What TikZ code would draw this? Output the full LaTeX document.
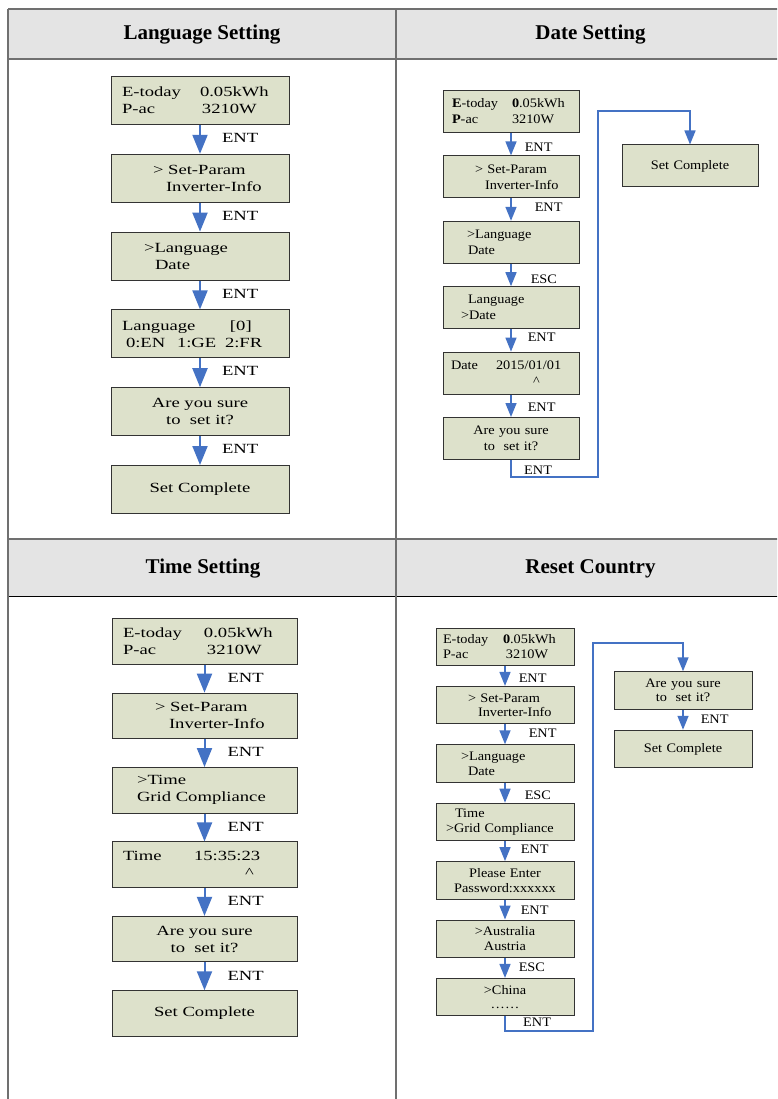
\documentclass[tikz,border=0pt]{standalone}
\usepackage{fontspec}
\setmainfont{Liberation Serif}
\newfontfamily\lcdwide[FakeStretch=1.33]{Liberation Serif}
\newfontfamily\lcdnarrow[FakeStretch=1.1]{Liberation Serif}
\usetikzlibrary{arrows.meta,positioning}
\definecolor{lcdfill}{HTML}{DDE1CB}
\definecolor{lcdline}{HTML}{333333}
\definecolor{flowblue}{HTML}{4472C4}
\definecolor{gridgray}{HTML}{707070}
\definecolor{headfill}{HTML}{E4E4E4}

\begin{document}
\begin{tikzpicture}[x=1pt, y=-1pt,
  lcd/.style={draw=lcdline, fill=lcdfill, line width=1pt, inner xsep=0pt, inner ysep=0pt, align=left},
  lang/.style={lcd, text width=178pt, minimum height=48pt, font=\lcdwide\fontsize{14}{17}\selectfont},
  time/.style={lcd, text width=185pt, minimum height=45.5pt, font=\lcdwide\fontsize{14}{17}\selectfont},
  date/.style={lcd, text width=136pt, minimum height=42pt, font=\lcdnarrow\fontsize{13}{16}\selectfont},
  reset/.style={lcd, text width=138pt, minimum height=37.5pt, font=\lcdnarrow\fontsize{13}{14.5}\selectfont},
  bigarrow/.style={draw=flowblue, line width=2pt, -{Triangle[width=15pt,length=19pt]}},
  smallarrow/.style={draw=flowblue, line width=1.5pt, -{Triangle[width=11pt,length=14pt]}},
  bigkey/.style={font=\lcdwide\fontsize{14}{17}\selectfont, inner sep=0pt},
  smallkey/.style={font=\lcdnarrow\fontsize{13}{16}\selectfont, inner sep=0pt},
  title/.style={font=\fontsize{21}{25}\selectfont\bfseries, anchor=base}
]
\clip (0,0) rectangle (777,1099);
\fill[white] (0,0) rectangle (777,1099);

% table frame
\fill[headfill] (8,9) rectangle (790,59);
\fill[headfill] (8,539) rectangle (790,596);
\draw[gridgray, line width=1.5pt] (8,9) -- (790,9) (8,59) -- (790,59) (8,539) -- (790,539);
\draw[black, line width=1pt] (8,596) -- (790,596);
\draw[gridgray, line width=1.5pt] (8,9) -- (8,1110) (396,9) -- (396,1110);

\node[title] (hlang) at (202,39.5) {Language Setting};
\node[title] (hdate) at (590.5,39.5) {Date Setting};
\node[title] (htime) at (203,573) {Time Setting};
\node[title] (hreset) at (590.5,573) {Reset Country};

% language setting
\node[lang] (l1) at (200,100.5) {\hspace*{11pt}\makebox[78pt][l]{E-today}0.05kWh\\\hspace*{11pt}\makebox[80pt][l]{P-ac}3210W};
\node[lang, below=28.8pt of l1] (l2) {\hspace*{42pt}> Set-Param\\\hspace*{55pt}Inverter-Info};
\node[lang, below=28.8pt of l2] (l3) {\hspace*{33pt}>Language\\\hspace*{44pt}Date};
\node[lang, below=28.8pt of l3] (l4) {\hspace*{11pt}\makebox[108pt][l]{Language}[0]\\\hspace*{15pt}\makebox[51pt][l]{0:EN}\makebox[48pt][l]{1:GE}2:FR};
\node[lang, align=center, below=28.8pt of l4] (l5) {Are you sure\\to\ \ set it?};
\node[lang, align=center, below=28.8pt of l5] (l6) {Set Complete};
\foreach \u/\v in {l1/l2,l2/l3,l3/l4,l4/l5,l5/l6}
  \draw[bigarrow] (\u.south) -- node[bigkey, pos=0.45, right=21pt] {ENT} (\v.north);

% date setting
\node[date] (d1) at (511,111.5) {\hspace*{9pt}\makebox[60pt][l]{\textbf{E}-today}\textbf{0}.05kWh\\\hspace*{9pt}\makebox[60pt][l]{\textbf{P}-ac}3210W};
\node[date, below=22.4pt of d1] (d2) {\hspace*{32pt}> Set-Param\\\hspace*{42pt}Inverter-Info};
\node[date, below=22.4pt of d2] (d3) {\hspace*{24pt}>Language\\\hspace*{25pt}Date};
\node[date, below=22.4pt of d3] (d4) {\hspace*{25pt}Language\\\hspace*{18pt}>Date};
\node[date, below=22.4pt of d4] (d5) {\hspace*{8pt}\makebox[45pt][l]{Date}2015/01/01\\\hspace*{90pt}\textasciicircum};
\node[date, align=center, below=22.4pt of d5] (d6) {Are you sure\\to\ \ set it?};
\node[date, align=center] (dsc) at (690,166) {Set Complete};
\foreach \u/\v/\k/\p/\d in {d1/d2/ENT/0.65/13,d2/d3/ENT/0.4/23,d3/d4/ESC/0.67/19,d4/d5/ENT/0.35/16,d5/d6/ENT/0.55/16}
  \draw[smallarrow] (\u.south) -- node[smallkey, pos=\p, right=\d pt] {\k} (\v.north);
\coordinate (dlow) at (598,477);
\coordinate (dtop) at (598,111);
\draw[smallarrow] (d6.south) |- (dlow) -- (dtop) -| (dsc.north);
\node[smallkey, right=13pt of d6.south, yshift=-10pt] (dkey) {ENT};

% time setting
\node[time] (t1) at (204.5,641.5) {\hspace*{11pt}\makebox[81pt][l]{E-today}0.05kWh\\\hspace*{11pt}\makebox[84pt][l]{P-ac}3210W};
\node[time, below=27.9pt of t1] (t2) {\hspace*{43pt}> Set-Param\\\hspace*{57pt}Inverter-Info};
\node[time, below=27.9pt of t2] (t3) {\hspace*{25pt}>Time\\\hspace*{25pt}Grid Compliance};
\node[time, below=27.9pt of t3] (t4) {\hspace*{11pt}\makebox[71pt][l]{Time}15:35:23\\\hspace*{133pt}\textasciicircum};
\node[time, align=center, below=27.9pt of t4] (t5) {Are you sure\\to\ \ set it?};
\node[time, align=center, below=27.9pt of t5] (t6) {Set Complete};
\foreach \u/\v in {t1/t2,t2/t3,t3/t4,t4/t5,t5/t6}
  \draw[bigarrow] (\u.south) -- node[bigkey, pos=0.47, right=22pt] {ENT} (\v.north);

% reset country
\node[reset] (r1) at (505,646.75) {\hspace*{7pt}\makebox[60pt][l]{E-today}\textbf{0}.05kWh\\\hspace*{7pt}\makebox[63pt][l]{P-ac}3210W};
\node[reset, below=19.9pt of r1] (r2) {\hspace*{32pt}> Set-Param\\\hspace*{42pt}Inverter-Info};
\node[reset, below=19.9pt of r2] (r3) {\hspace*{25pt}>Language\\\hspace*{32pt}Date};
\node[reset, below=19.9pt of r3] (r4) {\hspace*{19pt}Time\\\hspace*{10pt}>Grid Compliance};
\node[reset, align=center, below=19.9pt of r4] (r5) {Please Enter\\Password:xxxxxx};
\node[reset, align=center, below=19.9pt of r5] (r6) {>Australia\\Austria};
\node[reset, align=center, below=19.9pt of r6] (r7) {>China\\……};
\node[reset, align=center] (ra) at (683,690.5) {Are you sure\\to\ \ set it?};
\node[reset, align=center, below=20pt of ra] (rb) {Set Complete};
\foreach \u/\v/\k/\p/\d in {r1/r2/ENT/0.63/13,r2/r3/ENT/0.42/23,r3/r4/ESC/0.62/19,r4/r5/ENT/0.41/15,r5/r6/ENT/0.52/15,r6/r7/ESC/0.45/13,ra/rb/ENT/0.48/17}
  \draw[smallarrow] (\u.south) -- node[smallkey, pos=\p, right=\d pt] {\k} (\v.north);
\coordinate (rlow) at (593,1031);
\coordinate (rtop) at (593,643);
\draw[smallarrow] (r7.south) |- (rlow) -- (rtop) -| (ra.north);
\node[smallkey, right=18pt of r7.south, yshift=-6pt] (rkey) {ENT};
\end{tikzpicture}
\end{document}
